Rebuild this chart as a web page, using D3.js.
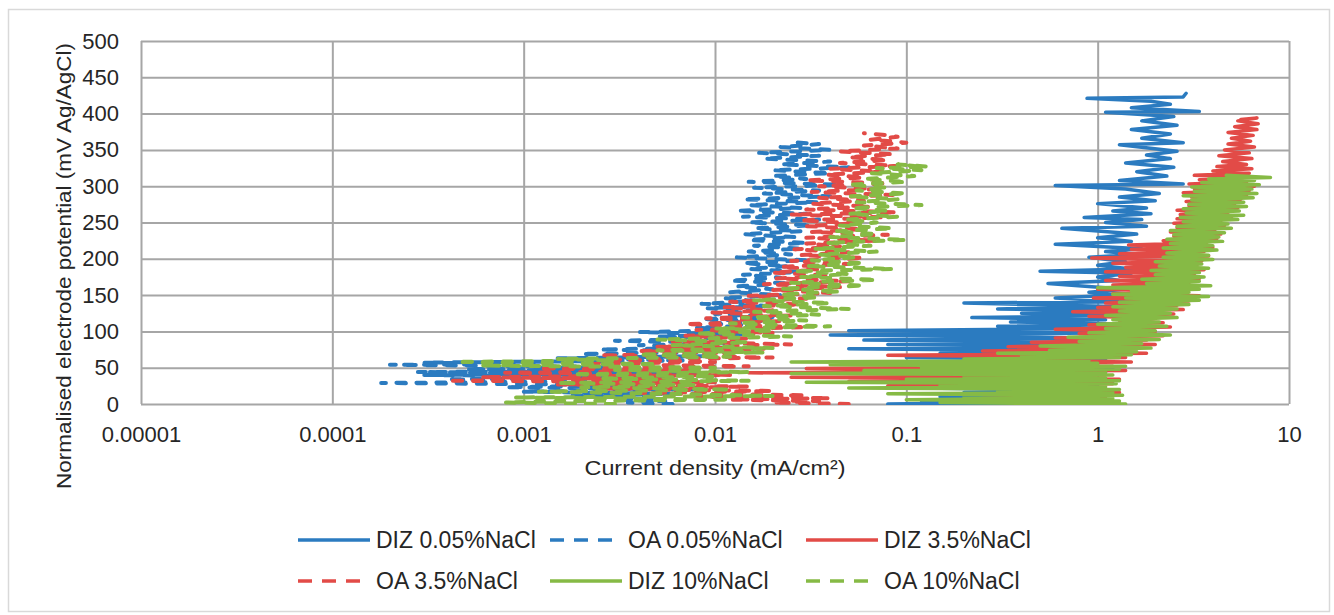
<!DOCTYPE html>
<html lang="en">
<head>
<meta charset="UTF-8">
<title>Polarisation curves - DIZ vs OA</title>
<script src="https://d3js.org/d3.v7.min.js"></script>
<style>
  body { margin: 0; background: #fff; }
  svg text { font-family: Arial, "Liberation Sans", sans-serif; fill: #262626; }
</style>
</head>
<body>
<svg id="chart" width="1334" height="615"></svg>
<script>
// axis ticks
var xTicks = [0.00001, 0.0001, 0.001, 0.01, 0.1, 1, 10];
var xTickLabels = ["0.00001", "0.0001", "0.001", "0.01", "0.1", "1", "10"];
var yTicks = [0, 50, 100, 150, 200, 250, 300, 350, 400, 450, 500];

// series: [current density mA/cm2, potential mV]
var diz005 = [[0.4,0],[0.08,0],[0.35,2],[0.12,4],[0.6,7],[0.15,10],[0.9,13],[0.2,16],[1.1,19],[0.12,22],[1.0,25],[0.1,28],[1.2,31],[0.15,34],[0.9,37],[0.1,40],[1.1,43],[0.2,46],[1.2,49],[0.12,52],[1.0,55],[0.3,58],[1.1,61],[0.1,64],[1.3,67],[0.15,70],[1.2,73],[0.05,76],[1.3,79],[0.08,82],[1.2,85],[0.06,88],[1.1,91],[0.04,95],[1.3,98],[0.05,101],[1.2,104],[0.3,107],[1.4,110],[0.35,113],[1.1,116],[0.22,119],[1.3,122],[0.4,125],[1.2,128],[0.3,131],[1.4,134],[0.2,139],[1.5,141],[0.6,146],[1.3,150],[0.9,154],[1.4,158],[0.55,166],[1.3,170],[1.0,175],[1.5,180],[0.5,183],[1.5,186],[1.0,191],[1.4,196],[0.9,202],[1.6,206],[1.1,210],[1.7,214],[0.6,220],[1.5,224],[1.0,229],[1.6,234],[0.65,242],[1.8,245],[1.1,250],[1.7,254],[0.85,257],[1.9,262],[1.2,266],[1.8,270],[1.0,276],[2.0,280],[1.3,285],[2.1,290],[1.4,296],[0.6,301],[2.8,303],[1.3,308],[2.3,314],[1.6,320],[2.5,326],[1.4,332],[2.4,338],[1.8,343],[2.6,348],[1.3,357],[2.8,360],[1.7,366],[2.4,372],[1.5,378],[2.6,384],[1.7,390],[2.5,396],[1.1,402],[3.4,403],[1.5,408],[2.4,413],[1.9,417],[0.88,421],[2.8,423],[2.9,428]];
var oa005 = [[0.006,0],[0.0035,2],[0.0055,4],[0.003,6],[0.005,8],[0.0018,11],[0.006,14],[0.001,17],[0.008,20],[0.0008,23],[0.004,26],[0.00018,29],[0.0025,31],[0.0004,34],[0.006,37],[0.0003,40],[0.008,42],[0.00028,44],[0.005,46],[0.0005,48],[0.003,51],[0.0002,54],[0.0012,55],[0.0003,57],[0.007,60],[0.0015,63],[0.009,66],[0.002,69],[0.012,72],[0.0025,75],[0.01,78],[0.004,81],[0.013,84],[0.003,87],[0.011,90],[0.005,93],[0.015,96],[0.004,99],[0.014,102],[0.008,105],[0.016,108],[0.009,111],[0.018,114],[0.0085,117],[0.02,120],[0.01,124],[0.018,128],[0.009,132],[0.02,135],[0.0085,138],[0.016,142],[0.011,146],[0.022,150],[0.012,154],[0.02,158],[0.013,162],[0.025,166],[0.012,170],[0.022,174],[0.014,178],[0.028,182],[0.015,186],[0.024,190],[0.014,194],[0.03,198],[0.013,202],[0.025,206],[0.015,210],[0.028,214],[0.016,218],[0.03,222],[0.015,226],[0.026,230],[0.014,234],[0.028,238],[0.016,242],[0.032,246],[0.015,250],[0.035,254],[0.014,258],[0.03,262],[0.013,266],[0.028,270],[0.015,274],[0.034,278],[0.014,282],[0.04,286],[0.018,290],[0.035,294],[0.016,298],[0.045,302],[0.015,306],[0.03,310],[0.02,314],[0.04,318],[0.02,322],[0.05,326],[0.022,330],[0.04,334],[0.018,338],[0.035,342],[0.017,346],[0.04,350],[0.022,354],[0.035,358],[0.024,361]];
var diz35 = [[1.0,0],[0.5,2],[1.2,4],[0.3,7],[1.1,10],[0.25,13],[1.3,16],[0.4,19],[1.1,22],[0.08,25],[1.2,28],[0.05,31],[1.3,34],[0.025,37],[1.1,40],[0.015,43],[1.4,46],[0.03,49],[1.2,52],[0.1,55],[1.5,58],[0.2,61],[1.4,64],[0.08,67],[1.8,70],[0.25,73],[1.6,76],[0.34,79],[2.0,82],[0.45,85],[1.8,88],[0.6,91],[2.2,94],[0.8,97],[2.0,100],[0.6,103],[2.4,106],[0.9,109],[2.2,112],[1.3,115],[2.0,118],[0.9,121],[2.5,124],[0.74,127],[2.8,130],[1.0,133],[2.6,136],[1.1,139],[3.0,142],[0.95,146],[3.4,149],[1.2,152],[2.8,155],[1.0,158],[3.2,161],[1.2,164],[3.0,167],[1.1,170],[3.4,173],[1.3,176],[3.2,179],[1.1,182],[3.6,185],[1.4,188],[3.3,191],[1.2,194],[3.5,197],[0.93,201],[3.8,204],[1.3,207],[3.6,210],[1.5,213],[4.0,216],[1.45,219],[3.7,222],[2.2,225],[4.2,228],[2.5,231],[4.4,234],[2.4,237],[4.1,240],[2.6,243],[4.6,246],[2.5,249],[4.4,252],[2.6,255],[5.0,258],[2.7,261],[4.8,264],[2.6,267],[5.4,270],[3.0,273],[5.2,276],[2.9,279],[5.6,282],[3.1,285],[6.0,288],[2.8,291],[6.2,294],[3.2,297],[6.6,300],[3.0,303],[6.0,306],[3.4,309],[5.8,312],[3.2,315],[6.2,318],[4.0,321],[6.4,324],[4.2,327],[6.0,330],[4.5,334],[6.4,338],[4.3,342],[6.2,346],[4.6,350],[6.6,354],[4.8,358],[6.3,362],[5.0,366],[6.5,370],[4.8,374],[6.8,378],[5.2,382],[6.9,386],[5.4,390],[6.8,394],[5.6,392]];
var oa35 = [[0.05,0],[0.02,2],[0.035,4],[0.012,6],[0.04,8],[0.008,10],[0.03,12],[0.004,15],[0.02,18],[0.0025,21],[0.015,24],[0.0015,27],[0.01,30],[0.0004,32],[0.006,34],[0.0006,37],[0.012,40],[0.0008,43],[0.008,46],[0.0012,49],[0.015,52],[0.002,55],[0.01,58],[0.003,61],[0.02,64],[0.0025,67],[0.012,70],[0.004,73],[0.018,76],[0.005,79],[0.025,82],[0.006,86],[0.015,90],[0.007,94],[0.02,98],[0.008,102],[0.03,106],[0.007,110],[0.022,114],[0.009,118],[0.025,122],[0.0097,126],[0.02,129],[0.011,133],[0.028,137],[0.012,141],[0.03,145],[0.015,149],[0.04,153],[0.02,157],[0.045,161],[0.018,165],[0.05,169],[0.021,173],[0.04,177],[0.02,181],[0.035,185],[0.022,189],[0.05,193],[0.025,197],[0.06,201],[0.028,205],[0.05,209],[0.026,213],[0.045,217],[0.03,221],[0.07,225],[0.03,229],[0.08,233],[0.032,237],[0.06,241],[0.03,245],[0.055,249],[0.028,253],[0.075,257],[0.025,261],[0.09,264],[0.03,268],[0.065,272],[0.032,276],[0.06,280],[0.035,284],[0.085,288],[0.032,292],[0.07,296],[0.035,300],[0.08,304],[0.03,308],[0.06,312],[0.038,316],[0.075,320],[0.04,324],[0.09,328],[0.045,332],[0.08,336],[0.05,340],[0.085,344],[0.045,348],[0.09,352],[0.06,356],[0.1,360],[0.065,364],[0.09,368],[0.075,371],[0.06,373]];
var diz10 = [[1.4,0],[0.15,2],[1.3,4],[0.1,6],[1.2,8],[0.2,10],[1.35,12],[0.08,14],[1.2,16],[0.3,18],[1.3,20],[0.05,22],[1.1,24],[0.15,26],[1.25,28],[0.03,30],[1.3,32],[0.1,34],[1.1,36],[0.2,38],[1.2,40],[0.025,42],[1.1,44],[0.06,46],[1.3,48],[0.12,50],[1.4,52],[0.04,54],[1.0,56],[0.025,58],[0.9,60],[0.2,62],[1.3,64],[0.4,66],[1.5,68],[0.3,70],[1.6,72],[0.56,74],[1.9,77],[0.5,80],[1.7,83],[0.8,86],[2.1,89],[0.7,92],[2.4,95],[0.9,98],[2.0,101],[1.1,104],[2.3,107],[1.0,110],[2.1,113],[1.2,116],[2.6,119],[1.1,122],[2.4,125],[1.3,128],[2.6,131],[1.2,134],[3.0,137],[1.3,140],[3.4,143],[1.4,146],[3.8,148],[1.2,151],[3.0,154],[1.5,156],[3.4,158],[1.0,160],[3.9,163],[1.8,166],[3.4,169],[1.7,172],[3.6,175],[2.0,178],[3.4,181],[1.9,184],[3.8,187],[2.1,190],[3.5,193],[2.0,196],[4.0,199],[2.2,202],[3.8,205],[2.3,208],[4.2,212],[2.2,215],[4.0,218],[2.4,221],[4.5,224],[2.3,227],[4.3,230],[2.5,233],[4.6,236],[2.4,239],[5.0,242],[2.6,245],[4.8,248],[2.8,251],[5.4,254],[2.7,257],[5.8,260],[2.9,263],[5.5,266],[2.8,269],[6.0,272],[3.0,275],[5.8,278],[3.1,281],[6.5,284],[2.8,287],[6.8,290],[3.2,293],[6.4,296],[3.1,299],[7.0,302],[3.5,305],[6.6,308],[3.8,310],[8.0,312],[4.7,315]];
var oa10 = [[0.003,0],[0.0008,2],[0.0017,4],[0.012,6],[0.0009,9],[0.02,11],[0.006,14],[0.0012,17],[0.012,20],[0.002,23],[0.008,26],[0.0015,29],[0.015,32],[0.0025,35],[0.01,38],[0.0018,41],[0.015,44],[0.003,47],[0.01,50],[0.0006,53],[0.005,55],[0.00045,58],[0.003,60],[0.0015,62],[0.012,65],[0.004,68],[0.018,71],[0.005,74],[0.02,77],[0.006,81],[0.015,85],[0.005,89],[0.025,93],[0.008,97],[0.02,101],[0.01,104],[0.04,107],[0.012,111],[0.03,115],[0.014,119],[0.035,123],[0.016,127],[0.05,131],[0.018,135],[0.04,139],[0.016,143],[0.035,147],[0.022,151],[0.045,155],[0.022,159],[0.06,163],[0.025,167],[0.07,171],[0.028,175],[0.05,179],[0.026,183],[0.085,186],[0.03,190],[0.06,194],[0.032,198],[0.055,202],[0.035,206],[0.07,210],[0.033,214],[0.065,218],[0.038,222],[0.1,226],[0.04,230],[0.07,234],[0.042,238],[0.085,242],[0.045,246],[0.07,250],[0.048,254],[0.09,258],[0.05,262],[0.08,266],[0.052,270],[0.12,274],[0.055,278],[0.09,282],[0.05,286],[0.1,290],[0.055,294],[0.08,298],[0.05,302],[0.1,306],[0.06,310],[0.11,314],[0.065,318],[0.12,322],[0.07,325],[0.13,327],[0.09,330],[0.11,328]];

var seriesNames = ["DIZ 0.05%NaCl", "OA 0.05%NaCl", "DIZ 3.5%NaCl", "OA 3.5%NaCl", "DIZ 10%NaCl", "OA 10%NaCl"];
var seriesData = [diz005, oa005, diz35, oa35, diz10, oa10];

var blue = "#2b7bc0", red = "#e24b47", green = "#86ba45";
var colors = [blue, blue, red, red, green, green];
var dashed = [false, true, false, true, false, true];

var svg = d3.select("#chart");

// outer frame
svg.append("rect")
  .attr("x", 8.5).attr("y", 9.5)
  .attr("width", 1321).attr("height", 602)
  .attr("fill", "none")
  .attr("stroke", "#d9d9d9")
  .attr("stroke-width", 1.5);

var plotLeft = 141, plotTop = 41;
var width = 1289 - plotLeft;
var height = 404 - plotTop;

var x = d3.scaleLog().domain([0.00001, 10]).range([0, width]);
var y = d3.scaleLinear().domain([0, 500]).range([height, 0]);

var g = svg.append("g")
  .attr("transform", "translate(" + plotLeft + "," + plotTop + ")");

// gridlines + y labels
var yAxis = g.append("g")
  .call(d3.axisLeft(y).tickValues(yTicks).tickSize(-width).tickPadding(22));
yAxis.select(".domain").remove();

// gridlines + x labels
var xAxis = g.append("g")
  .attr("transform", "translate(0," + height + ")")
  .call(d3.axisBottom(x).tickValues(xTicks).tickSize(-height).tickPadding(22)
    .tickFormat(function(d, i) { return xTickLabels[i]; }));
xAxis.select(".domain").remove();

g.selectAll(".tick line")
  .attr("stroke", "#a6a6a6")
  .attr("stroke-width", 2);
g.selectAll(".tick text")
  .attr("font-size", "22px")
  .attr("fill", "#262626");

g.append("clipPath").attr("id", "plotclip")
  .append("rect").attr("width", width).attr("height", height + 2).attr("y", -1);

var line = d3.line()
  .x(function(d) { return x(d[0]); })
  .y(function(d) { return y(d[1]); });

var plot = g.append("g").attr("clip-path", "url(#plotclip)");
seriesData.forEach(function(data, i) {
  plot.append("path")
    .datum(data)
    .attr("d", line)
    .attr("fill", "none")
    .attr("stroke", colors[i])
    .attr("stroke-width", dashed[i] ? 4 : 3.5)
    .attr("stroke-linejoin", "round")
    .attr("stroke-linecap", "round")
    .attr("stroke-dasharray", dashed[i] ? "9,11" : null);
});

// axis titles
svg.append("text")
  .attr("x", 715).attr("y", 475)
  .attr("text-anchor", "middle")
  .attr("font-size", "21px")
  .attr("textLength", 261)
  .attr("lengthAdjust", "spacingAndGlyphs")
  .text("Current density (mA/cm²)");

svg.append("text")
  .attr("transform", "translate(71,266) rotate(-90)")
  .attr("text-anchor", "middle")
  .attr("font-size", "21px")
  .attr("textLength", 446)
  .attr("lengthAdjust", "spacingAndGlyphs")
  .text("Normalised electrode potential (mV Ag/AgCl)");

// legend
var legCols = [298, 550, 806];
var legRows = [540, 581];
seriesNames.forEach(function(name, i) {
  var lx = legCols[i % 3], ly = legRows[Math.floor(i / 3)];
  svg.append("line")
    .attr("x1", lx).attr("x2", lx + 72)
    .attr("y1", ly).attr("y2", ly)
    .attr("stroke", colors[i])
    .attr("stroke-width", 3.5)
    .attr("stroke-dasharray", dashed[i] ? "14,10" : null);
  svg.append("text")
    .attr("x", lx + 78).attr("y", ly + 8)
    .attr("font-size", "23px")
    .text(name);
});
</script>
</body>
</html>
